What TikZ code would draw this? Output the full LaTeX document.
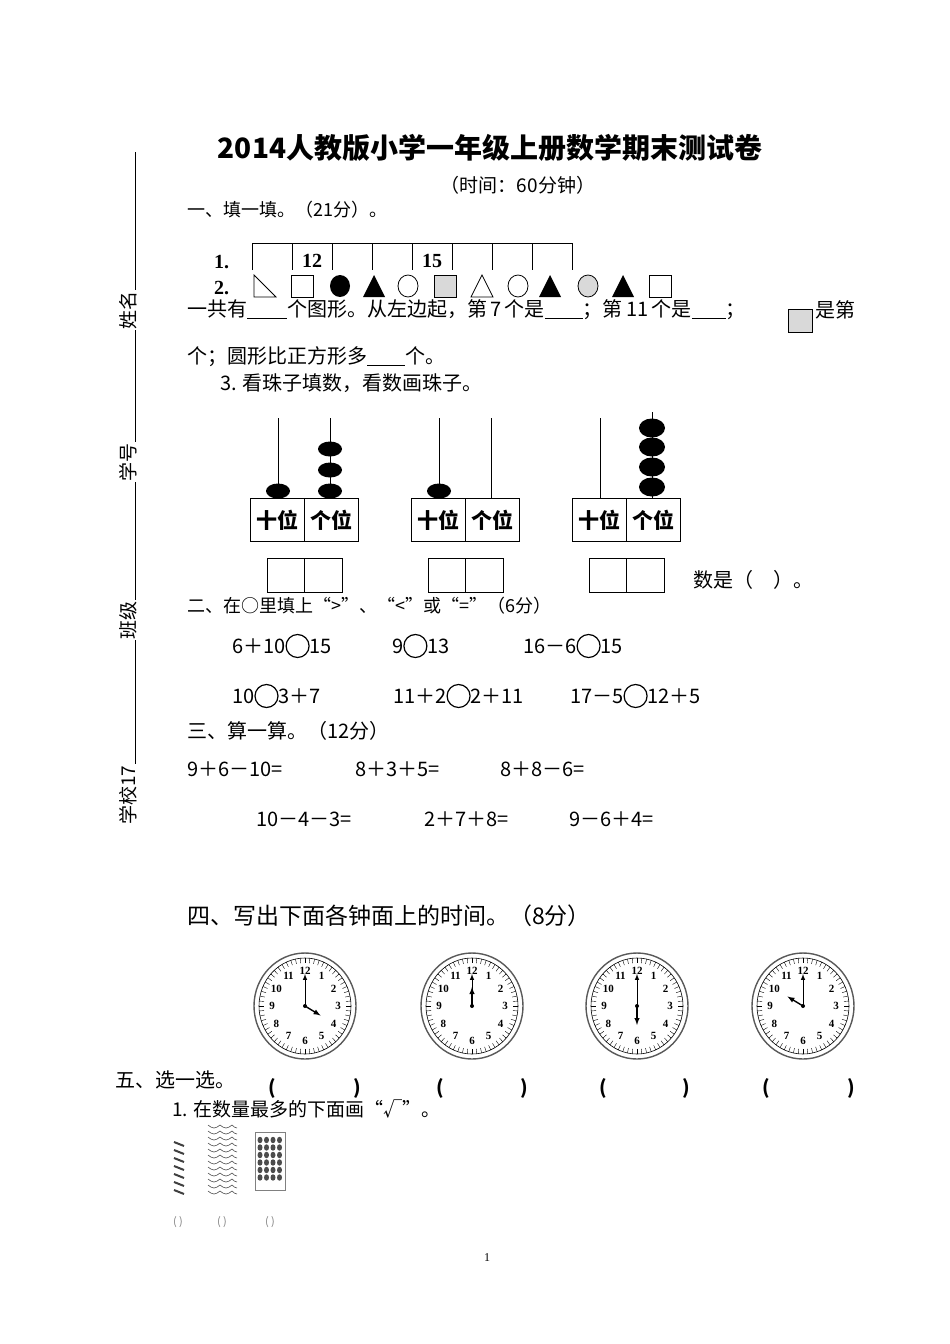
\documentclass[tikz,border=0pt]{standalone}
\usepackage{fontspec}
\setmainfont{Noto Sans CJK SC}
\newfontfamily\lat{Liberation Serif}
\usetikzlibrary{shapes.geometric}
\newcommand\oc{\tikz[baseline=-0.7ex]\draw[line width=1.2pt] (0,0) circle (11.5pt);}
\tikzset{
 x=1pt,y=-1pt,
 txt/.style={anchor=west,inner sep=0,font=\fontsize{20}{22}\selectfont},
 shp/.style={draw,line width=0.8pt},
 bead/.style={fill=black,ellipse,minimum width=24,minimum height=15,inner sep=0},
 bigbead/.style={fill=black,ellipse,minimum width=26,minimum height=19,inner sep=0},
 pbox/.style={draw,line width=0.9pt},
 paren/.style={font=\fontsize{19}{20}\selectfont\bfseries,inner sep=0},
 side/.style={rotate=90,font=\fontsize{19}{20}\selectfont,inner sep=1},
 pics/clock/.style 2 args={code={
   \draw[line width=1.4pt,gray!70!black] (0,0) ellipse (51 and 53);
   \draw[line width=0.6pt] (0,0) ellipse (46 and 48);
   \foreach \i in {0,...,59}{\draw[line width=0.4pt] ({46*sin(6*\i)},{-48*cos(6*\i)}) -- ({41*sin(6*\i)},{-43*cos(6*\i)});}
   \foreach \i in {1,...,12}{\node[font=\fontsize{11}{11}\selectfont\bfseries\lat,inner sep=0] at ({33*sin(30*\i)},{-35*cos(30*\i)}) {\i};}
   \draw[line width=1pt,-latex] (0,0) -- ({30*sin(#2)},{-32*cos(#2)});
   \draw[line width=1.4pt,-latex] (0,0) -- ({18*sin(#1)},{-19*cos(#1)});
   \fill (0,0) circle (2);
 }}
}
\begin{document}
\begin{tikzpicture}
\useasboundingbox (0,0) rectangle (950,1344);
% title
\node[inner sep=0,font=\fontsize{28}{30}\selectfont\bfseries] (title) at (490,148) {2014人教版小学一年级上册数学期末测试卷};
\node[inner sep=0,font=\fontsize{19}{21}\selectfont] (time) at (518,185) {（时间：60分钟）};
\node[txt,font=\fontsize{18}{20}\selectfont] (s1) at (187,210) {一、填一填。（21分）。};
% side
\draw[line width=0.8pt] (135,152) -- (135,800);
\node[side,fill=white] (xm) at (128,310) {姓名};
\node[side,fill=white] (xh) at (128,462) {学号};
\node[side,fill=white] (bj) at (128,620) {班级};
\node[side,fill=white] (xx) at (128,795) {学校17};
% row 1
\node[txt,font=\fontsize{20}{22}\selectfont\bfseries\lat] (n1) at (214,262) {1.};
\draw[line width=0.8pt] (252,270) -- (252,243) -- (572,243) -- (572,270);
\foreach \x in {292,332,...,532} \draw[line width=0.8pt] (\x,243) -- (\x,270);
\node[font=\fontsize{20}{22}\selectfont\bfseries\lat,inner sep=0] (c12) at (312,261) {12};
\node[font=\fontsize{20}{22}\selectfont\bfseries\lat,inner sep=0] (c15) at (432,261) {15};
% row 2
\node[txt,font=\fontsize{20}{22}\selectfont\bfseries\lat] (n2) at (214,288) {2.};
\draw[shp] (254,275) -- (254,297) -- (276,297) -- cycle;
\draw[shp] (291,275) rectangle (313,297);
\fill (340,286) ellipse (10 and 11);
\fill (363,297) -- (385,297) -- (374,275) -- cycle;
\draw[shp] (408,286) ellipse (10 and 11);
\draw[shp,fill=gray!30] (434,275) rectangle (456,297);
\draw[shp] (471,297) -- (493,297) -- (482,275) -- cycle;
\draw[shp] (518,286) ellipse (10 and 11);
\fill (539,297) -- (561,297) -- (550,275) -- cycle;
\draw[shp,fill=gray!30] (588,286) ellipse (10 and 11);
\fill (612,297) -- (634,297) -- (623,275) -- cycle;
\draw[shp] (649,275) rectangle (671,297);
\node[txt] (l1) at (187,310) {一共有\rule[-2pt]{40pt}{1pt}个图形。从左边起，第\,7\,个是\rule[-2pt]{38pt}{1pt}；第\,11\,个是\rule[-2pt]{34pt}{1pt}；};
\draw[shp,fill=gray!30] (788,309) rectangle (812,332);
\node[txt] (l1b) at (815,310) {是第};
\node[txt] (l2) at (187,357) {个；圆形比正方形多\rule[-2pt]{38pt}{1pt}个。};
\node[txt] (l3) at (220,383) {3. 看珠子填数，看数画珠子。};
% abacus
\foreach \bx in {250,411,572}{
  \draw[pbox] (\bx,498) rectangle ++(108,43);
  \draw[pbox] (\bx+54,498) -- (\bx+54,541);
  \node[font=\fontsize{21}{22}\selectfont\bfseries,inner sep=0] at (\bx+27,520) {十位};
  \node[font=\fontsize{21}{22}\selectfont\bfseries,inner sep=0] at (\bx+81,520) {个位};
  \draw[line width=0.7pt] (\bx+28,498) -- (\bx+28,418);
  \draw[line width=0.7pt] (\bx+80,498) -- (\bx+80,418);
  \draw[pbox] (\bx+17,558) rectangle ++(75,34);
  \draw[pbox] (\bx+54,558) -- (\bx+54,592);
}
\node[bead] at (278,491) {};
\foreach \y in {491,470,449} \node[bead] at (330,\y) {};
\node[bead] at (439,491) {};
\foreach \y in {487,467,447,428} \node[bigbead] at (652,\y) {};
\draw[line width=0.7pt] (652,430) -- (652,412);
\node[txt] (sj) at (693,580) {数是（　）。};
% section 2
\node[txt,font=\fontsize{18}{20}\selectfont] (s2) at (187,606) {二、在○里填上“>”、“<”或“=”（6分）};
\node[txt] (e1) at (232,646) {6＋10\oc15};
\node[txt] (e2) at (392,646) {9\oc13};
\node[txt] (e3) at (523,646) {16－6\oc15};
\node[txt] (e4) at (232,696) {10\oc3＋7};
\node[txt] (e5) at (393,696) {11＋2\oc2＋11};
\node[txt] (e6) at (570,696) {17－5\oc12＋5};
\node[txt] (s3) at (187,731) {三、算一算。（12分）};
\node[txt] (f1) at (187,769) {9＋6－10=};
\node[txt] (f2) at (355,769) {8＋3＋5=};
\node[txt] (f3) at (500,769) {8＋8－6=};
\node[txt] (f4) at (256,819) {10－4－3=};
\node[txt] (f5) at (424,819) {2＋7＋8=};
\node[txt] (f6) at (569,819) {9－6＋4=};
\node[txt,font=\fontsize{23}{25}\selectfont] (s4) at (187,916) {四、写出下面各钟面上的时间。（8分）};
% clocks
\pic at (305,1006) {clock={120}{0}};
\pic at (472,1006) {clock={0}{0}};
\pic at (637,1006) {clock={180}{0}};
\pic at (803,1006) {clock={300}{0}};
\foreach \a/\b in {272/357,440/524,603/686,766/851}{
  \node[paren] at (\a,1088) {(}; \node[paren] at (\b,1088) {)};}
\node[txt] (s5) at (115,1080) {五、选一选。};
\node[txt,font=\fontsize{19}{20}\selectfont] (q1) at (172,1109) {1. 在数量最多的下面画“√”。};
% pictures
\foreach \y in {1142,1150,...,1190}{\draw[line width=2pt,gray!50!black] (174,\y) -- (184,\y+4);}
\foreach \y in {1125,1131,...,1195}{\draw[line width=0.6pt,gray!60!black] (208,\y) sin (214,\y+3) cos (220,\y) sin (226,\y+3) cos (232,\y) sin (237,\y+3);}
\draw[gray,line width=0.6pt] (255,1132) rectangle (285,1190);
\foreach \i in {0,1,2,3}\foreach \j in {0,...,5}{\fill[gray!60!black] (260+\i*6.5,1140+\j*7.5) ellipse (2.5 and 3.2);}
\foreach \x in {178,222,270}{\node[font=\fontsize{11}{11}\selectfont,gray] at (\x,1222) {( )};}
\node[font=\fontsize{12}{12}\selectfont\lat,inner sep=0] (pg) at (487,1258) {1};
\end{tikzpicture}
\end{document}
